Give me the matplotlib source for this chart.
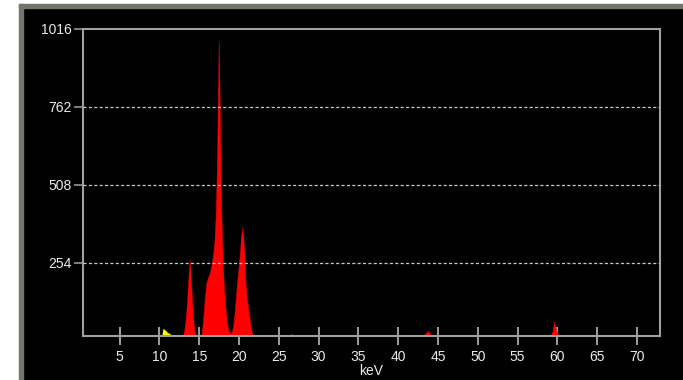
import matplotlib
matplotlib.use("Agg")
import matplotlib.pyplot as plt
from matplotlib.patches import Rectangle

# ---- data ----
red_kev = [12.9, 13.1, 13.3, 13.5, 13.65, 13.8, 13.95, 14.1, 14.25, 14.4, 14.56,
           15.27, 15.5, 15.7, 15.9, 16.1, 16.3, 16.5, 16.7, 16.9, 17.05, 17.18, 17.28, 17.36,
           17.45, 17.55, 17.63, 17.72, 17.82, 17.95, 18.08, 18.25, 18.4, 18.6, 18.75,
           19.05, 19.25, 19.4, 19.6, 19.75, 19.95, 20.1, 20.25, 20.43, 20.55, 20.68, 20.8,
           20.93, 21.1, 21.26, 21.45, 21.7,
           43.1, 43.5, 43.8, 44.0, 44.2,
           59.1, 59.4, 59.6, 59.8, 60.1]
red_counts = [15, 30, 70, 140, 210, 265, 210, 130, 70, 35, 15,
              15, 70, 140, 188, 205, 220, 240, 273, 320, 400, 520, 660, 830,
              975, 830, 660, 500, 380, 270, 188, 120, 78, 40, 29,
              25, 45, 78, 140, 188, 240, 280, 340, 371, 340, 280, 200,
              150, 115, 90, 50, 15,
              15, 25, 32, 22, 15,
              15, 30, 62, 40, 15]
yellow_kev = [10.3, 10.45, 10.7, 11.0, 11.4, 11.8, 26.4, 26.6, 26.8]
yellow_counts = [15, 40, 35, 27, 21, 15, 15, 22, 15]

x_ticks = [5, 10, 15, 20, 25, 30, 35, 40, 45, 50, 55, 60, 65, 70]
y_ticks = [254, 508, 762, 1016]
x_label = "keV"

W, H = 683, 380
fig = plt.figure(figsize=(W / 100, H / 100), dpi=100, facecolor="black")

# outer white margin and grey border (screenshot frame)
fig.patches.append(Rectangle((0, 0), 19 / W, 1, transform=fig.transFigure, color="white", zorder=0))
fig.patches.append(Rectangle((0, 1 - 4 / H), 1, 4 / H, transform=fig.transFigure, color="white", zorder=0))
fig.patches.append(Rectangle((19 / W, 0), 4 / W, 1 - 4 / H, transform=fig.transFigure, color="#74746a", zorder=1))
fig.patches.append(Rectangle((19 / W, 1 - 8 / H), 1 - 19 / W, 4 / H, transform=fig.transFigure, color="#74746a", zorder=1))

ax = fig.add_axes([83 / W, 44 / H, (660 - 83) / W, (336 - 29) / H])
ax.set_facecolor("black")

ax.fill_between(red_kev, 0, red_counts, color="#ff0000", lw=0.3, edgecolor="#e00000", zorder=2)
ax.fill_between(yellow_kev, 0, yellow_counts, color="#ffff00", lw=0, zorder=2)

ax.set_xlim(0.4, 72.9)
ax.set_ylim(15, 1016)

for y in y_ticks[:-1]:
    ax.axhline(y, color="#c8c8c8", lw=0.9, ls=(0, (2.5, 1.8)), zorder=3)

for s in ax.spines.values():
    s.set_color("#a0a0a0")
    s.set_linewidth(1.5)

font = ["Liberation Sans", "DejaVu Sans"]
ax.set_xticks(x_ticks)
ax.set_xticklabels([str(v) for v in x_ticks], family=font, fontsize=10, color="#ececec")
ax.set_yticks(y_ticks)
ax.set_yticklabels([str(v) for v in y_ticks], family=font, fontsize=10, color="#ececec")
ax.tick_params(axis="x", direction="inout", length=13, width=1.1, color="#c8c8c8", pad=3.5)
ax.tick_params(axis="y", direction="out", length=6.5, width=1.1, color="#a0a0a0", pad=1.5)
ax.set_xlabel(x_label, family=font, fontsize=10, color="#ececec", labelpad=0)

fig.savefig("out.png", dpi=100, facecolor="black")
